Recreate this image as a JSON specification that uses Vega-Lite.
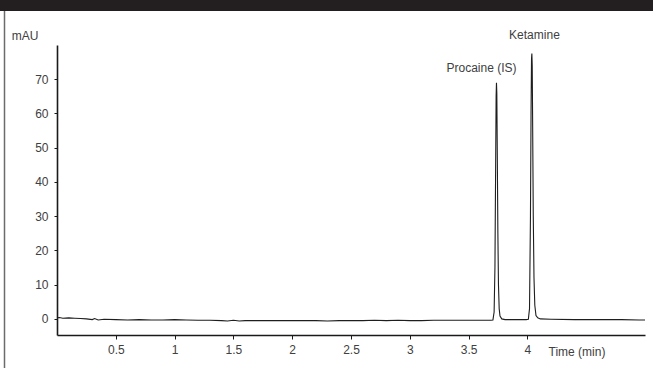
{
  "$schema": "https://vega.github.io/schema/vega-lite/v6.json",
  "width": 588,
  "height": 290,
  "autosize": {"type": "none"},
  "padding": {"left": 57, "top": 45, "right": 8, "bottom": 33},
  "background": "white",
  "config": {
    "view": {"stroke": null},
    "font": "Liberation Sans",
    "axis": {"labelFont": "Liberation Sans", "titleFont": "Liberation Sans", "labelFontSize": 12, "titleFontSize": 12, "labelColor": "#404040", "titleColor": "#404040", "titleFontWeight": "normal", "grid": false, "domainColor": "#1a1a1a", "domainWidth": 1.6, "tickColor": "#1a1a1a", "tickWidth": 1, "tickSize": 3}
  },
  "datasets": {
    "trace": [
      {"t": 0.0, "v": 0.3}, {"t": 0.02, "v": 0.4}, {"t": 0.05, "v": 0.2}, {"t": 0.1, "v": 0.3}, {"t": 0.15, "v": 0.2}, {"t": 0.2, "v": 0.1}, {"t": 0.25, "v": 0.0}, {"t": 0.3, "v": -0.2}, {"t": 0.32, "v": 0.1}, {"t": 0.35, "v": -0.3}, {"t": 0.4, "v": -0.1}, {"t": 0.5, "v": -0.2}, {"t": 0.6, "v": -0.3}, {"t": 0.7, "v": -0.2}, {"t": 0.8, "v": -0.3}, {"t": 0.9, "v": -0.3}, {"t": 1.0, "v": -0.2}, {"t": 1.1, "v": -0.3}, {"t": 1.2, "v": -0.4}, {"t": 1.3, "v": -0.4}, {"t": 1.4, "v": -0.5}, {"t": 1.45, "v": -0.6}, {"t": 1.5, "v": -0.4}, {"t": 1.55, "v": -0.6}, {"t": 1.6, "v": -0.5}, {"t": 1.7, "v": -0.5}, {"t": 1.8, "v": -0.5}, {"t": 1.9, "v": -0.5}, {"t": 2.0, "v": -0.5}, {"t": 2.1, "v": -0.5}, {"t": 2.2, "v": -0.5}, {"t": 2.3, "v": -0.6}, {"t": 2.4, "v": -0.5}, {"t": 2.5, "v": -0.5}, {"t": 2.6, "v": -0.5}, {"t": 2.7, "v": -0.4}, {"t": 2.8, "v": -0.5}, {"t": 2.9, "v": -0.4}, {"t": 3.0, "v": -0.5}, {"t": 3.1, "v": -0.5}, {"t": 3.2, "v": -0.4}, {"t": 3.3, "v": -0.4}, {"t": 3.4, "v": -0.4}, {"t": 3.5, "v": -0.4}, {"t": 3.6, "v": -0.4}, {"t": 3.69, "v": -0.4}, {"t": 3.707, "v": -0.3}, {"t": 3.717, "v": 2}, {"t": 3.724, "v": 15}, {"t": 3.73, "v": 45}, {"t": 3.734, "v": 65}, {"t": 3.737, "v": 69}, {"t": 3.74, "v": 66}, {"t": 3.744, "v": 48}, {"t": 3.749, "v": 25}, {"t": 3.754, "v": 10}, {"t": 3.76, "v": 3}, {"t": 3.767, "v": 0.8}, {"t": 3.782, "v": 0}, {"t": 3.81, "v": -0.2}, {"t": 3.9, "v": -0.2}, {"t": 3.99, "v": -0.2}, {"t": 4.008, "v": -0.1}, {"t": 4.018, "v": 3}, {"t": 4.026, "v": 30}, {"t": 4.031, "v": 60}, {"t": 4.035, "v": 76}, {"t": 4.038, "v": 77.5}, {"t": 4.041, "v": 74}, {"t": 4.045, "v": 55}, {"t": 4.05, "v": 30}, {"t": 4.056, "v": 12}, {"t": 4.063, "v": 4}, {"t": 4.073, "v": 1}, {"t": 4.088, "v": 0.3}, {"t": 4.11, "v": 0}, {"t": 4.2, "v": -0.1}, {"t": 4.4, "v": -0.2}, {"t": 4.6, "v": -0.2}, {"t": 4.8, "v": -0.2}, {"t": 4.95, "v": -0.3}, {"t": 5.0, "v": -0.3}
    ],
    "labels": [
      {"t": 3.61, "v": 73.3, "name": "Procaine (IS)"},
      {"t": 4.06, "v": 82.8, "name": "Ketamine"}
    ]
  },
  "layer": [
    {
      "data": {"values": [{}]},
      "mark": {"type": "rect", "color": "#231f20"},
      "encoding": {"x": {"value": -57}, "x2": {"value": 596}, "y": {"value": -45}, "y2": {"value": -34}}
    },
    {
      "data": {"values": [{}]},
      "mark": {"type": "rule", "color": "#6b6b6b", "strokeWidth": 1.5},
      "encoding": {"x": {"value": -52.5}, "y": {"value": -34}, "y2": {"value": 323}}
    },
    {
      "data": {"name": "trace"},
      "mark": {"type": "line", "color": "#1e1e1e", "strokeWidth": 1.1, "interpolate": "linear"},
      "encoding": {
        "x": {"field": "t", "type": "quantitative", "scale": {"domain": [0, 5], "nice": false, "zero": false},
          "axis": {"values": [0.5, 1, 1.5, 2, 2.5, 3, 3.5, 4], "labelExpr": "datum.value", "tickSize": 4, "labelPadding": 5, "title": "Time (min)", "titleX": 491, "titleY": 16, "titleAlign": "left", "titleBaseline": "middle", "titleAnchor": null, "labelFlush": false}},
        "y": {"field": "v", "type": "quantitative", "scale": {"domain": [-4.7, 80], "nice": false, "zero": false},
          "axis": {"values": [0, 10, 20, 30, 40, 50, 60, 70], "tickSize": 3, "labelPadding": 6, "title": "mAU", "titleAngle": 0, "titleX": -19, "titleY": -10, "titleAlign": "right", "titleBaseline": "middle", "titleAnchor": null}}
      }
    },
    {
      "data": {"name": "labels"},
      "mark": {"type": "text", "font": "Liberation Sans", "fontSize": 12, "color": "#404040", "align": "center", "baseline": "middle"},
      "encoding": {
        "x": {"field": "t", "type": "quantitative"},
        "y": {"field": "v", "type": "quantitative"},
        "text": {"field": "name"}
      }
    }
  ]
}
